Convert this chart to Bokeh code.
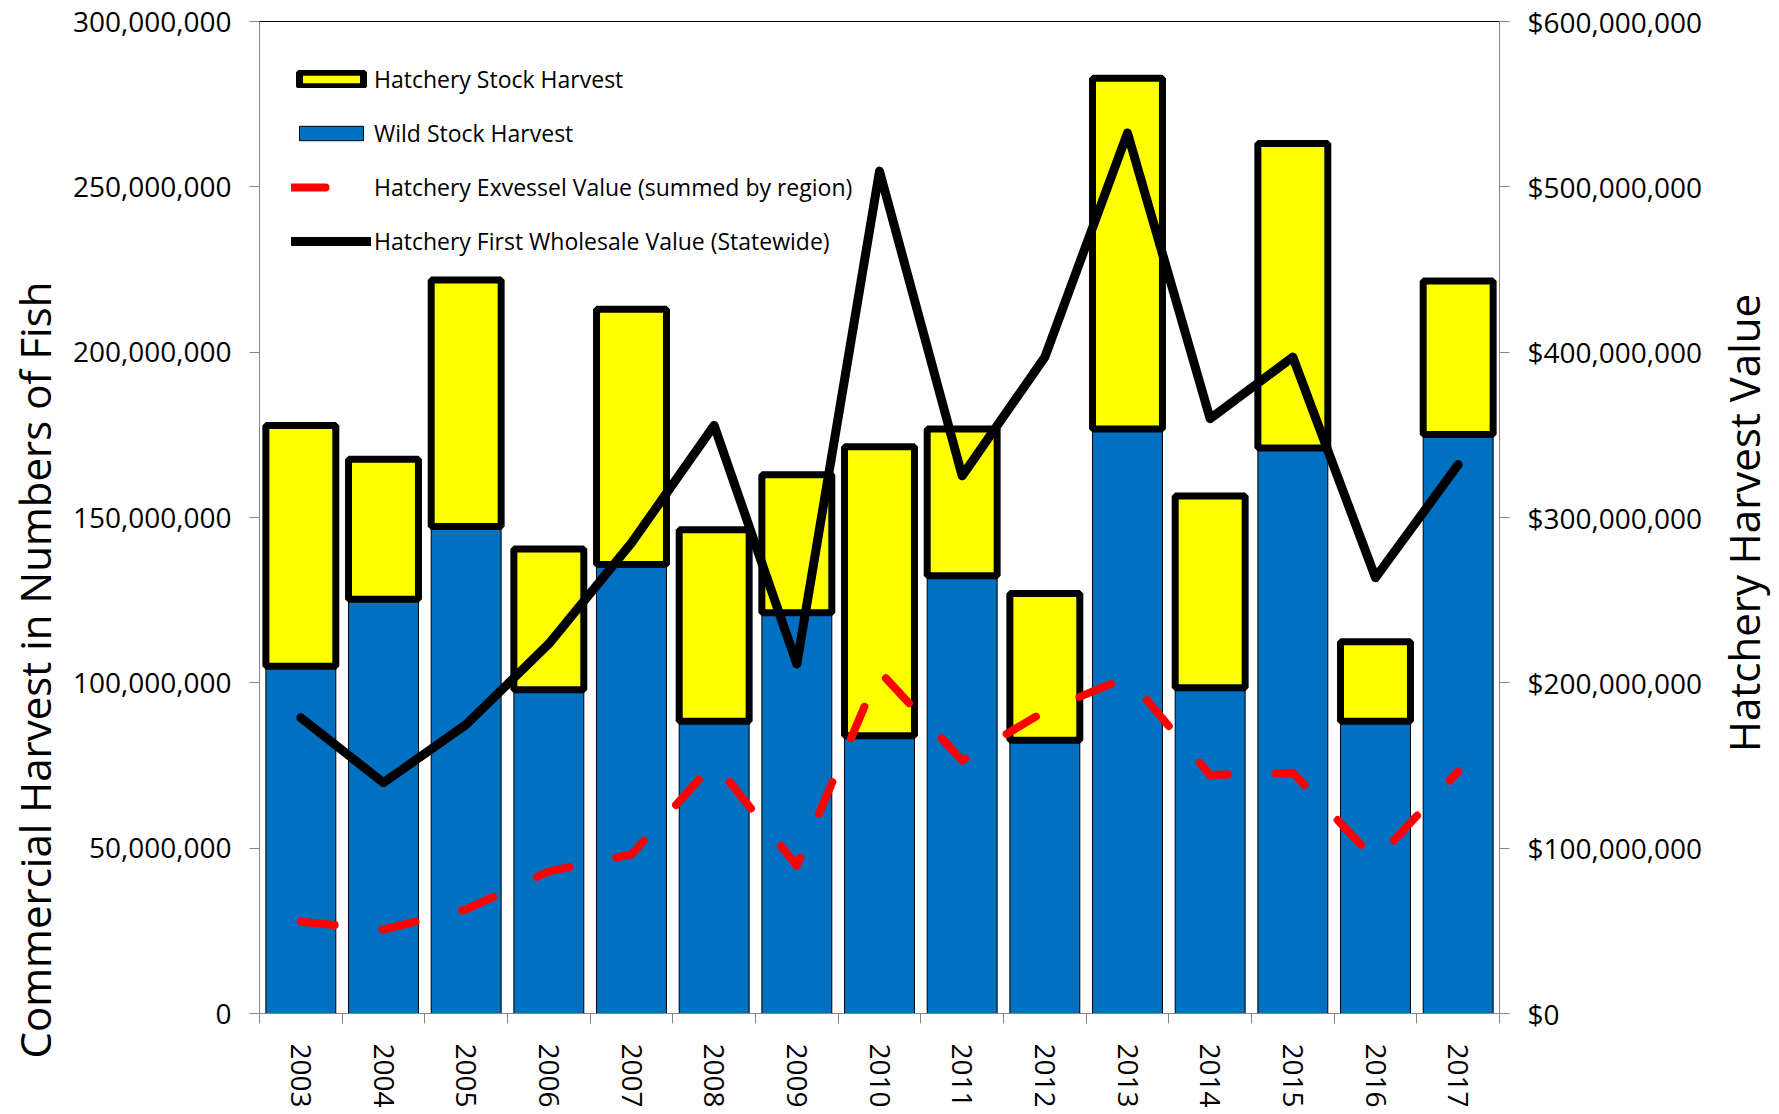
import math
from bokeh.plotting import figure
from bokeh.layouts import row
from bokeh.models import (ColumnDataSource, Range1d, LinearAxis, FixedTicker,
                          NumeralTickFormatter, Legend, LegendItem, Label, Title)
from bokeh.embed import file_html
from bokeh.resources import INLINE

# ---- data ----
years = [2003, 2004, 2005, 2006, 2007, 2008, 2009, 2010, 2011, 2012, 2013, 2014, 2015, 2016, 2017]
wild_stock = [105.0e6, 125.3e6, 147.3e6, 97.9e6, 135.8e6, 88.4e6, 121.2e6, 84.0e6,
              132.4e6, 82.6e6, 176.8e6, 98.5e6, 171.0e6, 88.4e6, 175.1e6]
hatchery_stock = [72.8e6, 42.3e6, 74.5e6, 42.6e6, 77.2e6, 57.9e6, 41.7e6, 87.4e6,
                  44.4e6, 44.4e6, 106.0e6, 58.0e6, 92.1e6, 24.0e6, 46.4e6]
exvessel_value = [55.5e6, 50.8e6, 63.0e6, 86.0e6, 96.2e6, 151.8e6, 89.4e6, 207.0e6,
                  153.0e6, 182.8e6, 203.5e6, 144.2e6, 145.6e6, 92.8e6, 146.3e6]
wholesale_value = [178.9e6, 139.6e6, 174.8e6, 223.6e6, 284.6e6, 355.7e6, 211.4e6, 509.5e6,
                   325.2e6, 397.0e6, 532.6e6, 359.8e6, 397.0e6, 263.6e6, 332.0e6]

left_ticks = [0, 50e6, 100e6, 150e6, 200e6, 250e6, 300e6]
right_ticks = [0, 100e6, 200e6, 300e6, 400e6, 500e6, 600e6]

left_title = "Commercial Harvest in Numbers of Fish"
right_title = "Hatchery Harvest  Value"

FONT = "Open Sans"
AXIS_GRAY = "#868686"
H = 1110
TOP, BOTTOM = 21, 84

src = ColumnDataSource(dict(year=years, wild=wild_stock, hatchery=hatchery_stock,
                            exv=exvessel_value, whl=wholesale_value))

p = figure(width=1715, height=H,
           x_range=Range1d(years[0] - 0.5, years[-1] + 0.5),
           y_range=Range1d(0, 300e6),
           output_backend="svg", toolbar_location=None,
           min_border_left=259, min_border_right=216,
           min_border_top=TOP, min_border_bottom=BOTTOM)
p.extra_y_ranges = {"value": Range1d(0, 600e6)}
p.grid.visible = False
p.outline_line_color = "black"
p.outline_line_width = 1
p.background_fill_color = "white"
p.border_fill_color = "white"

# bars
bars = p.vbar_stack(["wild", "hatchery"], x="year", width=0.846, source=src,
                    fill_color=["#0070C0", "#FFFF00"], line_color=["black", "black"],
                    line_width=[1, 7])

# lines
r_exv = p.line("year", "exv", source=src, y_range_name="value", line_color="#FF0000",
               line_width=8, line_dash="34 48", line_cap="round", line_join="round")
r_whl = p.line("year", "whl", source=src, y_range_name="value", line_color="black",
               line_width=9, line_cap="round", line_join="round")

# x axis
xa = p.xaxis[0]
xa.ticker = FixedTicker(ticks=years, minor_ticks=[y - 0.5 for y in years] + [years[-1] + 0.5])
xa.major_tick_line_color = None
xa.minor_tick_line_color = AXIS_GRAY
xa.minor_tick_out = 10
xa.minor_tick_in = 0
xa.axis_line_color = AXIS_GRAY
xa.major_label_orientation = -math.pi / 2
xa.major_label_standoff = 20
xa.major_label_text_font = FONT
xa.major_label_text_font_size = "28px"
xa.major_label_text_color = "black"

# left axis
ya = p.yaxis[0]
ya.ticker = FixedTicker(ticks=left_ticks)
ya.formatter = NumeralTickFormatter(format="0,0")
ya.axis_line_color = AXIS_GRAY
ya.major_tick_line_color = AXIS_GRAY
ya.major_tick_out = 10
ya.major_tick_in = 0
ya.minor_tick_line_color = None
ya.major_label_standoff = 18
ya.major_label_text_font = FONT
ya.major_label_text_font_size = "28px"
ya.major_label_text_color = "black"

# right axis
ra = LinearAxis(y_range_name="value", ticker=FixedTicker(ticks=right_ticks),
                formatter=NumeralTickFormatter(format="$0,0"))
ra.axis_line_color = AXIS_GRAY
ra.major_tick_line_color = AXIS_GRAY
ra.major_tick_out = 10
ra.major_tick_in = 0
ra.minor_tick_line_color = None
ra.major_label_standoff = 18
ra.major_label_text_font = FONT
ra.major_label_text_font_size = "28px"
ra.major_label_text_color = "black"
p.add_layout(ra, "right")

# left title, starting a little below the frame bottom as in the reference
p.add_layout(Title(text=left_title, align="left", vertical_align="top", offset=-45,
                   standoff=10, text_font=FONT, text_font_size="42px",
                   text_font_style="normal", text_color="black"), "left")

# legend
legend = Legend(items=[
    LegendItem(label="Hatchery Stock Harvest", renderers=[bars[1]]),
    LegendItem(label="Wild Stock Harvest", renderers=[bars[0]]),
    LegendItem(label="Hatchery Exvessel Value (summed by region)", renderers=[r_exv]),
    LegendItem(label="Hatchery First Wholesale Value (Statewide)", renderers=[r_whl]),
], location=(32, 756), padding=0, margin=0, spacing=22,
    glyph_width=80, glyph_height=18, label_standoff=3,
    label_text_font=FONT, label_text_font_size="23px", label_text_color="black",
    border_line_color=None, background_fill_alpha=0)
p.add_layout(legend)

# right title strip (frame aligned with the main plot frame)
FRAME_H = H - TOP - BOTTOM
pr = figure(width=60, height=H, x_range=Range1d(0, 60), y_range=Range1d(0, FRAME_H),
            output_backend="svg", toolbar_location=None,
            x_axis_location=None, y_axis_location=None,
            min_border_left=0, min_border_right=0,
            min_border_top=TOP, min_border_bottom=BOTTOM)
pr.grid.visible = False
pr.outline_line_color = None
pr.background_fill_color = "white"
pr.border_fill_color = "white"
pr.add_layout(Label(x=28, y=FRAME_H / 2, text=right_title, angle=math.pi / 2,
                    text_align="center", text_baseline="middle",
                    text_font=FONT, text_font_size="42px", text_color="black"))

layout = row(p, pr, spacing=0)
open("out.html", "w").write(file_html(layout, INLINE))
